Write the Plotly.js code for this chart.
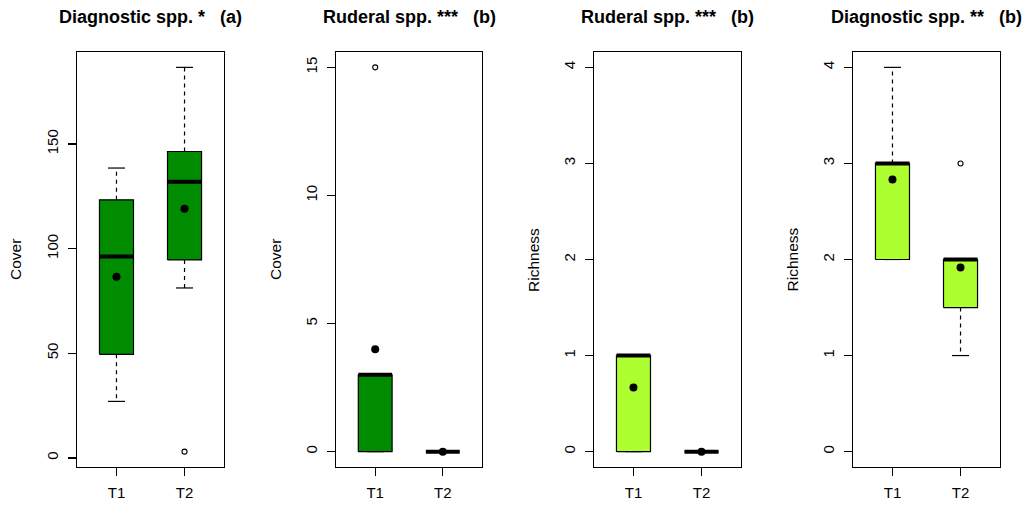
<!DOCTYPE html>
<html>
<head>
<meta charset="utf-8">
<script src="https://cdn.plot.ly/plotly-3.0.1.min.js"></script>
<style>html,body{margin:0;padding:0;background:#fff;}#chart{width:1029px;height:507px;}</style>
</head>
<body>
<div id="chart"></div>
<script>
// ---- data ----
const groups = ['T1', 'T2'];
const panelTitles = ['Diagnostic spp. *   (a)', 'Ruderal spp. ***   (b)', 'Ruderal spp. ***   (b)', 'Diagnostic spp. **   (b)'];
const yLabels = ['Cover', 'Cover', 'Richness', 'Richness'];

// Panel 1: diagnostic species cover
const p1Lower  = [27, 81.2];
const p1Q1     = [49.5, 94.6];
const p1Median = [96.2, 132];
const p1Q3     = [123.3, 146.4];
const p1Upper  = [138.5, 186.6];
const p1Mean   = [86.5, 119.1];
const p1Out    = [[], [3]];

// Panel 2: ruderal species cover
const p2Lower  = [0, 0];
const p2Q1     = [0, 0];
const p2Median = [3, 0];
const p2Q3     = [3, 0];
const p2Upper  = [3, 0];
const p2Mean   = [4, 0];
const p2Out    = [[15], []];

// Panel 3: ruderal species richness
const p3Lower  = [0, 0];
const p3Q1     = [0, 0];
const p3Median = [1, 0];
const p3Q3     = [1, 0];
const p3Upper  = [1, 0];
const p3Mean   = [0.667, 0];
const p3Out    = [[], []];

// Panel 4: diagnostic species richness
const p4Lower  = [2, 1];
const p4Q1     = [2, 1.5];
const p4Median = [3, 2];
const p4Q3     = [3, 2];
const p4Upper  = [4, 2];
const p4Mean   = [2.833, 1.917];
const p4Out    = [[], [3]];

const yTickStep = [50, 5, 1, 1];
const yLimits = [null, null, [0, 4], [0, 4]];

// ---- styling ----
const panelColors = ['#008B00', '#008B00', '#ADFF2F', '#ADFF2F'];
const xDomains = [[77/1029, 224/1029], [336/1029, 482/1029], [594/1029, 741/1029], [853/1029, 1000/1029]];
const yDomain = [(507-467)/507, (507-52)/507];
const yLabelX = [15, 275, 533, 791.5];
const boxHalf = 0.25, capHalf = 0.125;

const panels = [
  {lo: p1Lower, q1: p1Q1, med: p1Median, q3: p1Q3, hi: p1Upper, mean: p1Mean, out: p1Out},
  {lo: p2Lower, q1: p2Q1, med: p2Median, q3: p2Q3, hi: p2Upper, mean: p2Mean, out: p2Out},
  {lo: p3Lower, q1: p3Q1, med: p3Median, q3: p3Q3, hi: p3Upper, mean: p3Mean, out: p3Out},
  {lo: p4Lower, q1: p4Q1, med: p4Median, q3: p4Q3, hi: p4Upper, mean: p4Mean, out: p4Out}
];

const traces = [];
const layout = {
  width: 1029, height: 507,
  margin: {l: 0, r: 0, t: 0, b: 0},
  paper_bgcolor: '#fff', plot_bgcolor: '#fff',
  showlegend: false,
  font: {family: 'Liberation Sans, Arial, sans-serif', color: '#000', size: 15},
  annotations: []
};

panels.forEach((p, k) => {
  const sfx = k === 0 ? '' : String(k + 1);
  const xa = 'x' + sfx, ya = 'y' + sfx;
  let minV = Infinity, maxV = -Infinity;
  groups.forEach((g, i) => {
    const c = i + 1;
    const vals = [p.lo[i], p.hi[i], p.mean[i]].concat(p.out[i]);
    vals.forEach(v => { minV = Math.min(minV, v); maxV = Math.max(maxV, v); });
    // whiskers (dashed)
    traces.push({type: 'scatter', mode: 'lines', xaxis: xa, yaxis: ya, hoverinfo: 'skip',
      x: [c, c, null, c, c], y: [p.q3[i], p.hi[i], null, p.q1[i], p.lo[i]],
      line: {color: '#000', width: 1.2, dash: '4px,4px'}});
    // staples
    traces.push({type: 'scatter', mode: 'lines', xaxis: xa, yaxis: ya, hoverinfo: 'skip',
      x: [c - capHalf, c + capHalf, null, c - capHalf, c + capHalf],
      y: [p.hi[i], p.hi[i], null, p.lo[i], p.lo[i]],
      line: {color: '#000', width: 1.2}});
    // box
    traces.push({type: 'scatter', mode: 'lines', xaxis: xa, yaxis: ya, fill: 'toself',
      fillcolor: panelColors[k],
      x: [c - boxHalf, c + boxHalf, c + boxHalf, c - boxHalf, c - boxHalf],
      y: [p.q1[i], p.q1[i], p.q3[i], p.q3[i], p.q1[i]],
      line: {color: '#000', width: 1.2}});
    // median
    traces.push({type: 'scatter', mode: 'lines', xaxis: xa, yaxis: ya,
      x: [c - boxHalf, c + boxHalf], y: [p.med[i], p.med[i]],
      line: {color: '#000', width: 4}});
    // outliers
    if (p.out[i].length) {
      traces.push({type: 'scatter', mode: 'markers', xaxis: xa, yaxis: ya,
        x: p.out[i].map(() => c), y: p.out[i],
        marker: {symbol: 'circle-open', size: 5, color: '#000', line: {width: 1.1}}});
    }
    // mean
    traces.push({type: 'scatter', mode: 'markers', xaxis: xa, yaxis: ya,
      x: [c], y: [p.mean[i]],
      marker: {symbol: 'circle', size: 8, color: '#000'}});
  });
  let lim = yLimits[k] || [minV, maxV];
  const pad = (lim[1] - lim[0]) * 0.04;
  layout['xaxis' + sfx] = {
    domain: xDomains[k], anchor: ya, range: [0.42, 2.58],
    tickmode: 'array', tickvals: [1, 2], ticktext: groups,
    showline: true, mirror: true, linecolor: '#000', linewidth: 1.2,
    ticks: 'outside', ticklen: 8, tickwidth: 1.2, tickcolor: '#000',
    showgrid: false, zeroline: false, fixedrange: true,
    tickfont: {size: 15}, ticklabelstandoff: 4
  };
  layout['yaxis' + sfx] = {
    domain: yDomain, anchor: xa, range: [lim[0] - pad, lim[1] + pad],
    tickmode: 'linear', tick0: 0, dtick: yTickStep[k],
    showline: true, mirror: true, linecolor: '#000', linewidth: 1.2,
    ticks: 'outside', ticklen: 8, tickwidth: 1.2, tickcolor: '#000',
    showgrid: false, zeroline: false, fixedrange: true, tickangle: -90,
    tickfont: {size: 15}, ticklabelstandoff: 4
  };
  layout.annotations.push({
    xref: 'paper', yref: 'paper', x: (xDomains[k][0] + xDomains[k][1]) / 2, y: (507 - 17) / 507,
    xanchor: 'center', yanchor: 'middle', showarrow: false,
    text: '<b>' + panelTitles[k].replace(/ /g, '&nbsp;') + '</b>',
    font: {size: 18, color: '#000'}
  });
  layout.annotations.push({
    xref: 'paper', yref: 'paper', x: yLabelX[k] / 1029, y: (507 - 260) / 507,
    xanchor: 'center', yanchor: 'middle', showarrow: false, textangle: -90,
    text: yLabels[k], font: {size: 15.5, color: '#000'}
  });
});

Plotly.newPlot('chart', traces, layout, {displayModeBar: false, staticPlot: true});
</script>
</body>
</html>
